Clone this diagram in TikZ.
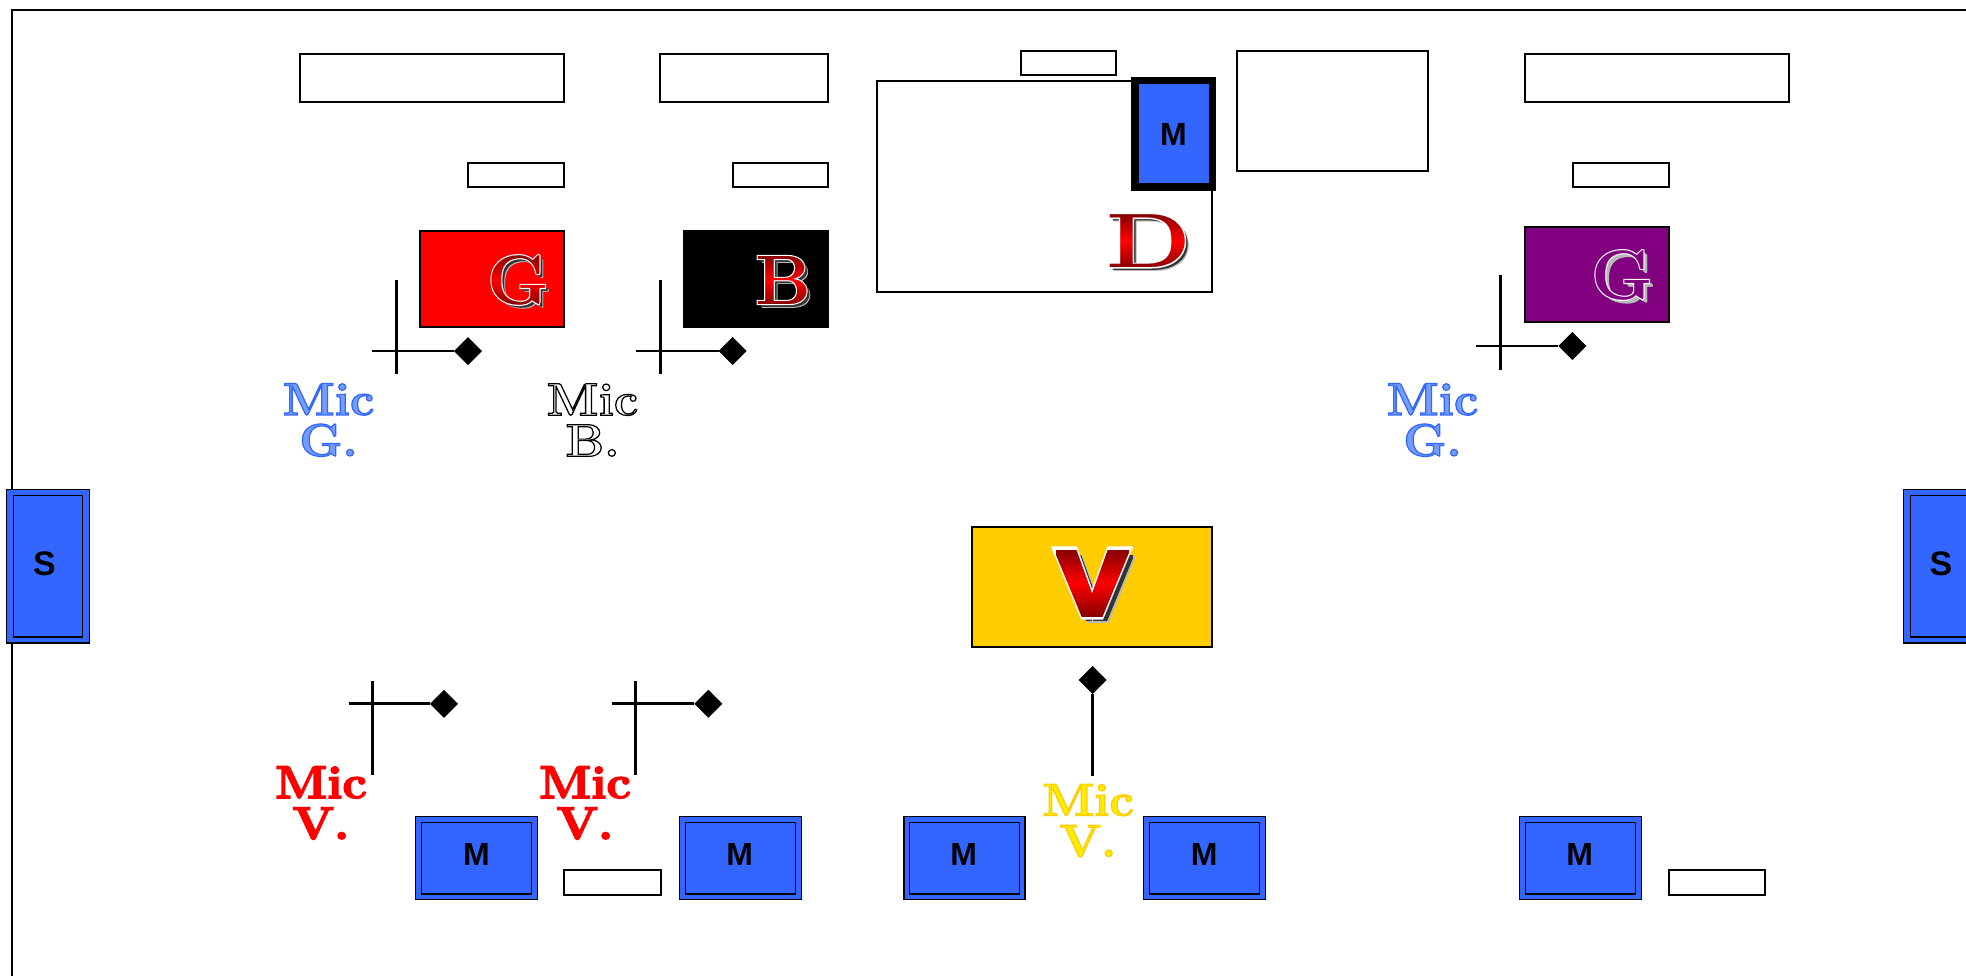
\documentclass[tikz,border=0pt]{standalone}
\usepackage{fontspec}
\usepackage{xcolor}
\usetikzlibrary{shapes.geometric,fadings}
\newfontfamily\sansb[BoldFont={Liberation Sans Bold}]{Liberation Sans}
\definecolor{mblue}{HTML}{3366FF}
\definecolor{vyellow}{HTML}{FFCC00}
\definecolor{dkred}{HTML}{7A0000}
\definecolor{purp}{HTML}{800080}
\definecolor{halo}{gray}{0.72}
\definecolor{shad}{gray}{0.2}
\newcommand{\bigserif}{\fontsize{35}{35}\selectfont\bfseries}
\newcommand{\bigdee}{\fontsize{38.5}{38.5}\selectfont\bfseries}
\newcommand{\heavyv}{\fontspec{Liberation Sans Bold}[FakeBold=6]\fontsize{47}{47}\selectfont}
\newcommand{\heavyvo}{\fontspec{Liberation Sans Bold}[FakeBold=9]\fontsize{47}{47}\selectfont}
\newcommand{\wideD}{\scalebox{1.28}[1]{D}}
\newcommand{\wideV}{\scalebox{1.12}[1]{V}}
\newcommand{\strk}[3]{\special{pdf:code 2 Tr #3 w #1 RG #2 rg}}
\newcommand{\unstrk}{\special{pdf:code 0 Tr 1 w}}
\newcommand{\miclines}[5]{\strk{#1}{#2}{#3}\scalebox{1.06}[1]{#4}\unstrk\\\strk{#1}{#2}{#3}\scalebox{1.06}[1]{#5}\unstrk}
\begin{tikzfadingfrompicture}[name=fadeG]
\node[text=transparent!0,inner sep=0pt,font=\bigserif]{G};
\end{tikzfadingfrompicture}
\begin{tikzfadingfrompicture}[name=fadeB]
\node[text=transparent!0,inner sep=0pt,font=\bigserif]{B};
\end{tikzfadingfrompicture}
\begin{tikzfadingfrompicture}[name=fadeD]
\node[text=transparent!0,inner sep=0pt,font=\bigdee]{\wideD};
\end{tikzfadingfrompicture}
\begin{tikzfadingfrompicture}[name=fadeV]
\node[text=transparent!0,inner sep=0pt,font=\heavyv]{\wideV};
\end{tikzfadingfrompicture}
\tikzset{
  every node/.style={inner sep=0pt,outer sep=0pt},
  plainbox/.style={draw=black,line width=1pt,fill=white},
  darkbox/.style={draw=black,line width=1pt},
  spk/.style={draw=black,line width=.65pt,fill=mblue},
  spkin/.style={draw=black,line width=.55pt,fill=mblue},
  lab/.style={font=\sansb\bfseries\fontsize{16}{16}\selectfont,text=black},
  slab/.style={font=\sansb\bfseries\fontsize{17}{17}\selectfont,text=black},
  wire/.style={draw=black,line width=1.4pt},
  tip/.style={diamond,fill=black,minimum width=14pt,minimum height=14pt,aspect=1},
  mic/.style={align=center,font=\fontsize{23}{20.5}\selectfont\bfseries},
}
% \rn{name}{style}{x1}{y1}{x2}{y2}{text}
\newcommand{\rn}[7]{%
  \pgfmathsetmacro{\rw}{(#5-#3)*0.5}\pgfmathsetmacro{\rh}{(#6-#4)*0.5}%
  \node[#2,minimum width=\rw pt,minimum height=\rh pt] (#1) at ({(#3+#5)/2},{(#4+#6)/2}) {#7};}
\newcommand{\fadefill}[7]{% colour, fading, x, y, dx, hw, hh
  \fill[#1,path fading=#2,fit fading=false,fading transform={shift={(#3+#5,#4+#5)}}]
     (#3-#6,#4-#7) rectangle (#3+#6+#5+3,#4+#7+#5+3);}
% \fancy{name}{x}{y}{letter}{fading}{font}{hw}{hh}{dark}{mid}{halo}{shadow}
\newcommand{\fancy}[9]{\def\fname{#1}\def\fx{#2}\def\fy{#3}\def\fl{#4}\def\ff{#5}\def\ffont{#6}\def\fw{#7}\def\fh{#8}\def\fd{#9}\fancyrest}
\newcommand{\fancyrest}[3]{%
  \fadefill{#2}{\ff}{\fx}{\fy}{4.5}{\fw}{\fh}%
  \fadefill{#3}{\ff}{\fx}{\fy}{3}{\fw}{\fh}%
  \node[text=white,font=\ffont] (\fname) at (\fx,\fy) {\strk{1 1 1}{1 1 1}{1.1}\fl\unstrk};
  \shade[path fading=\ff,fit fading=false,fading transform={shift={(\fx,\fy)}},
     top color=\fd,bottom color=\fd,middle color=#1]
     (\fx-\fw,\fy-\fh) rectangle (\fx+\fw,\fy+\fh);}
\begin{document}
\begin{tikzpicture}[x=0.5pt,y=-0.5pt]
\useasboundingbox (0,0) rectangle (1966,975);
\clip (0,0) rectangle (1966,975);
\fill[white] (0,0) rectangle (1966,975);
\draw[black,line width=1pt] (12,1000) -- (12,10) -- (2000,10);

% upper rectangles
\rn{t1}{plainbox}{299.7}{53.9}{564.2}{101.6}{}
\rn{t2}{plainbox}{660}{53.9}{828.4}{101.6}{}
\rn{dtag}{plainbox}{1020.6}{51.4}{1116}{75.2}{}
\rn{drum}{plainbox}{876.8}{80.6}{1212.4}{292.1}{}
\rn{r1}{plainbox}{1236.6}{51.4}{1428}{170.5}{}
\rn{t3}{plainbox}{1524.9}{53.9}{1789}{101.6}{}
\rn{s1}{plainbox}{467.9}{163}{564.2}{186.8}{}
\rn{s2}{plainbox}{732.5}{163}{828.4}{186.8}{}
\rn{s3}{plainbox}{1572.7}{163}{1668.6}{186.8}{}
\rn{dm}{draw=black,line width=3.75pt,fill=mblue}{1134.8}{80.3}{1212.4}{186.8}{}
\node[lab] (dml) at (1173.5,134) {M};

% coloured boxes
\rn{red}{darkbox,fill=red}{420}{230.7}{564.2}{327.2}{}
\rn{blk}{darkbox,fill=black}{684}{230.7}{828.4}{327.2}{}
\rn{pur}{darkbox,fill=purp}{1524.9}{227}{1668.6}{322.2}{}
\rn{yel}{darkbox,fill=vyellow}{972}{526.6}{1212.4}{647}{}

\fancy{lg}{518}{280}{G}{fadeG}{\bigserif}{34}{27}{dkred}{red}{halo}{shad}
\fancy{lb}{783}{280}{B}{fadeB}{\bigserif}{34}{27}{dkred}{red}{halo}{shad}
\fancy{ld}{1148.5}{241}{\wideD}{fadeD}{\bigdee}{46}{30}{dkred}{red}{halo}{shad}
\fancy{lg2}{1622}{275}{G}{fadeG}{\bigserif}{34}{27}{purp}{purp}{halo}{halo}
% V: heavy letter with thicker white contour
\fadefill{halo}{fadeV}{1092}{583}{6}{50}{42}
\fadefill{shad}{fadeV}{1092}{583}{4.5}{50}{42}
\node[text=white,font=\heavyvo] (lv) at (1092,583) {\wideV};
\shade[path fading=fadeV,fit fading=false,fading transform={shift={(1092,583)}},
   top color=dkred,bottom color=dkred,middle color=red] (1042,546) rectangle (1142,620);

% mic stands
\coordinate (a1) at (396.2,279.6);\coordinate (a2) at (396.2,373.6);\coordinate (a3) at (372.4,351);
\node[tip] (d1) at (468,351) {};
\draw[wire] (a1)--(a2); \draw[wire] (a3)--(d1);
\coordinate (b1) at (660.8,279.6);\coordinate (b2) at (660.8,373.6);\coordinate (b3) at (635.7,351);
\node[tip] (d2) at (732.5,351) {};
\draw[wire] (b1)--(b2); \draw[wire] (b3)--(d2);
\coordinate (c1) at (1500.8,274.6);\coordinate (c2) at (1500.8,369.9);\coordinate (c3) at (1475.7,346);
\node[tip] (d3) at (1572.3,346) {};
\draw[wire] (c1)--(c2); \draw[wire] (c3)--(d3);
\coordinate (e1) at (372.4,680.8);\coordinate (e2) at (372.4,774.8);\coordinate (e3) at (348.6,703.8);
\node[tip] (d4) at (444,703.8) {};
\draw[wire] (e1)--(e2); \draw[wire] (e3)--(d4);
\coordinate (f1) at (635.7,680.8);\coordinate (f2) at (635.7,774.8);\coordinate (f3) at (611.9,703.8);
\node[tip] (d5) at (708.4,703.8) {};
\draw[wire] (f1)--(f2); \draw[wire] (f3)--(d5);
\node[tip] (d6) at (1092.5,680) {};
\coordinate (g1) at (1092.5,776);
\draw[wire] (d6)--(g1);

% mic labels
\node[mic,text=mblue] (m1) at (328.5,420) {\miclines{0.2 0.4 1}{0.45 0.62 1}{0.6}{Mic}{G.}};
\node[mic,text=black] (m2) at (592.4,420) {\miclines{0 0 0}{1 1 1}{0.6}{Mic}{B.}};
\node[mic,text=mblue] (m3) at (1432.5,420) {\miclines{0.2 0.4 1}{0.45 0.62 1}{0.6}{Mic}{G.}};
\node[mic,text=red] (m4) at (321,803) {\miclines{1 0 0}{1 0 0}{0.8}{Mic}{V.}};
\node[mic,text=red] (m5) at (585,803) {\miclines{1 0 0}{1 0 0}{0.8}{Mic}{V.}};
\node[mic,text=vyellow] (m6) at (1088,820.6) {\miclines{1 0.8 0}{1 0.93 0}{0.6}{Mic}{V.}};

% speakers
\rn{sl}{spk}{6.5}{489.5}{89.5}{643}{}
\rn{sli}{spkin}{13.5}{495.5}{82.5}{637}{}
\node[slab] (sll) at (44.5,564) {S};
\rn{sr}{spk}{1903.5}{489.5}{1986}{643}{}
\rn{sri}{spkin}{1910.5}{495.5}{1979}{637}{}
\node[slab] (srl) at (1941,564) {S};

% monitors
\rn{b1o}{spk}{415.5}{816.7}{537.4}{899.7}{}
\rn{b1i}{spkin}{421.5}{822.5}{531.5}{894}{}
\node[lab] (b1l) at (476.4,854) {M};
\rn{b2o}{spk}{679.5}{816.7}{801.3}{899.7}{}
\rn{b2i}{spkin}{685.5}{822.5}{795.3}{894}{}
\node[lab] (b2l) at (739.7,854) {M};
\rn{b3o}{spk}{903.9}{816.7}{1025.1}{899.7}{}
\rn{b3i}{spkin}{909.9}{822.5}{1019.1}{894}{}
\node[lab] (b3l) at (963.6,854) {M};
\rn{b4o}{spk}{1143.3}{816.7}{1265.2}{899.7}{}
\rn{b4i}{spkin}{1149.3}{822.5}{1259.2}{894}{}
\node[lab] (b4l) at (1204.3,854) {M};
\rn{b5o}{spk}{1519.5}{816.7}{1641.3}{899.7}{}
\rn{b5i}{spkin}{1525.5}{822.5}{1635.3}{894}{}
\node[lab] (b5l) at (1579.8,854) {M};
\rn{tg1}{plainbox}{564.2}{870.1}{660.8}{895.2}{}
\rn{tg2}{plainbox}{1668.8}{870.1}{1765.3}{895.2}{}
\end{tikzpicture}
\end{document}
